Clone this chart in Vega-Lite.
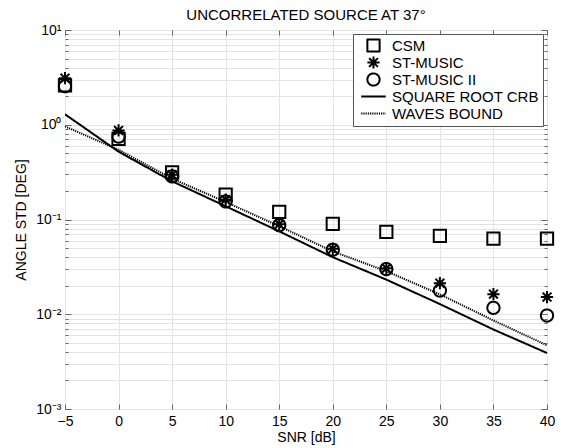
{
  "$schema": "https://vega.github.io/schema/vega-lite/v6.json",
  "autosize": {"type": "none"},
  "padding": {"left": 65, "top": 30, "right": 14, "bottom": 39},
  "width": 482,
  "height": 379,
  "background": "white",
  "title": {"text": "UNCORRELATED SOURCE AT 37°", "font": "Liberation Sans", "fontSize": 15, "fontWeight": "normal", "color": "#000", "offset": 0},
  "config": {
    "view": {"stroke": "#666", "strokeWidth": 1},
    "axis": {"labelFont": "Liberation Sans", "titleFont": "Liberation Sans", "labelFontSize": 14, "titleFontSize": 14, "titleFontWeight": "normal", "labelColor": "#000", "titleColor": "#000", "domainColor": "#666", "tickColor": "#666"},
    "legend": {"orient": "top-right", "offset": 4, "strokeColor": "#555", "fillColor": "white", "padding": 4, "labelFont": "Liberation Sans", "labelFontSize": 15, "labelColor": "#000", "symbolStrokeColor": "#000", "symbolStrokeWidth": 2, "symbolSize": 150, "rowPadding": 1, "labelOffset": 11, "symbolOffset": 9}
  },
  "datasets": {
    "pts": [
      {"series": "CSM", "snr": -5, "std": 2.6}, {"series": "CSM", "snr": 0, "std": 0.71}, {"series": "CSM", "snr": 5, "std": 0.315}, {"series": "CSM", "snr": 10, "std": 0.183}, {"series": "CSM", "snr": 15, "std": 0.12}, {"series": "CSM", "snr": 20, "std": 0.09}, {"series": "CSM", "snr": 25, "std": 0.074}, {"series": "CSM", "snr": 30, "std": 0.067}, {"series": "CSM", "snr": 35, "std": 0.063}, {"series": "CSM", "snr": 40, "std": 0.063},
      {"series": "ST-MUSIC", "snr": -5, "std": 3.1}, {"series": "ST-MUSIC", "snr": 0, "std": 0.87}, {"series": "ST-MUSIC", "snr": 5, "std": 0.297}, {"series": "ST-MUSIC", "snr": 10, "std": 0.162}, {"series": "ST-MUSIC", "snr": 15, "std": 0.089}, {"series": "ST-MUSIC", "snr": 20, "std": 0.049}, {"series": "ST-MUSIC", "snr": 25, "std": 0.0305}, {"series": "ST-MUSIC", "snr": 30, "std": 0.0213}, {"series": "ST-MUSIC", "snr": 35, "std": 0.0163}, {"series": "ST-MUSIC", "snr": 40, "std": 0.0152},
      {"series": "ST-MUSIC II", "snr": -5, "std": 2.55}, {"series": "ST-MUSIC II", "snr": 0, "std": 0.75}, {"series": "ST-MUSIC II", "snr": 5, "std": 0.285}, {"series": "ST-MUSIC II", "snr": 10, "std": 0.155}, {"series": "ST-MUSIC II", "snr": 15, "std": 0.087}, {"series": "ST-MUSIC II", "snr": 20, "std": 0.048}, {"series": "ST-MUSIC II", "snr": 25, "std": 0.03}, {"series": "ST-MUSIC II", "snr": 30, "std": 0.0178}, {"series": "ST-MUSIC II", "snr": 35, "std": 0.0117}, {"series": "ST-MUSIC II", "snr": 40, "std": 0.0097}
    ],
    "lines": [
      {"series": "SQUARE ROOT CRB", "snr": -5, "std": 1.29}, {"series": "SQUARE ROOT CRB", "snr": 0, "std": 0.52}, {"series": "SQUARE ROOT CRB", "snr": 5, "std": 0.253}, {"series": "SQUARE ROOT CRB", "snr": 10, "std": 0.138}, {"series": "SQUARE ROOT CRB", "snr": 15, "std": 0.075}, {"series": "SQUARE ROOT CRB", "snr": 20, "std": 0.04}, {"series": "SQUARE ROOT CRB", "snr": 25, "std": 0.0232}, {"series": "SQUARE ROOT CRB", "snr": 30, "std": 0.0128}, {"series": "SQUARE ROOT CRB", "snr": 35, "std": 0.0069}, {"series": "SQUARE ROOT CRB", "snr": 40, "std": 0.0039},
      {"series": "WAVES BOUND", "snr": -5, "std": 0.96}, {"series": "WAVES BOUND", "snr": 0, "std": 0.545}, {"series": "WAVES BOUND", "snr": 5, "std": 0.27}, {"series": "WAVES BOUND", "snr": 10, "std": 0.153}, {"series": "WAVES BOUND", "snr": 15, "std": 0.085}, {"series": "WAVES BOUND", "snr": 20, "std": 0.046}, {"series": "WAVES BOUND", "snr": 25, "std": 0.0285}, {"series": "WAVES BOUND", "snr": 30, "std": 0.0162}, {"series": "WAVES BOUND", "snr": 35, "std": 0.0086}, {"series": "WAVES BOUND", "snr": 40, "std": 0.0047}
    ]
  },
  "resolve": {"axis": {"x": "independent", "y": "independent"}},
  "layer": [
    {
      "data": {"name": "lines"},
      "mark": {"type": "line", "color": "#000", "strokeWidth": 2, "clip": true},
      "encoding": {
        "x": {"field": "snr", "type": "quantitative", "scale": {"domain": [-5, 40], "nice": false, "zero": false},
              "axis": {"title": "SNR [dB]", "values": [-5, 0, 5, 10, 15, 20, 25, 30, 35, 40], "grid": true, "gridColor": "#e3e3e3", "tickSize": -5, "labelPadding": 10, "titlePadding": 2, "domain": false, "labelFlush": false}},
        "y": {"field": "std", "type": "quantitative", "scale": {"type": "log", "domain": [0.001, 10], "nice": false},
              "axis": {"title": "ANGLE STD [DEG]", "values": [0.001, 0.002, 0.003, 0.004, 0.005, 0.006, 0.007, 0.008, 0.009, 0.01, 0.02, 0.03, 0.04, 0.05, 0.06, 0.07, 0.08, 0.09, 0.1, 0.2, 0.3, 0.4, 0.5, 0.6, 0.7, 0.8, 0.9, 1, 2, 3, 4, 5, 6, 7, 8, 9, 10],
                       "labelExpr": "abs(datum.value-10)<1e-9 ? '10¹' : abs(datum.value-1)<1e-9 ? '10⁰' : abs(datum.value-0.1)<1e-9 ? '10⁻¹' : abs(datum.value-0.01)<1e-9 ? '10⁻²' : abs(datum.value-0.001)<1e-9 ? '10⁻³' : ''",
                       "grid": true, "gridColor": "#e3e3e3", "tickSize": {"condition": {"test": "abs(log(datum.value)/LN10 - round(log(datum.value)/LN10)) < 0.001", "value": -6}, "value": -3}, "labelPadding": 10, "titlePadding": 7, "domain": false}},
        "strokeDash": {"field": "series", "type": "nominal", "scale": {"domain": ["CSM", "ST-MUSIC", "ST-MUSIC II", "SQUARE ROOT CRB", "WAVES BOUND"], "range": [[1, 0], [1, 0], [1, 0], [1, 0], [1.2, 1]]},
                       "legend": {"title": null, "encoding": {"symbols": {"strokeJoin": {"value": "round"}}}}}
      }
    },
    {
      "data": {"name": "pts"},
      "mark": {"type": "point", "filled": false, "color": "#000", "strokeWidth": 2, "opacity": 1, "size": 150, "clip": false},
      "encoding": {
        "x": {"field": "snr", "type": "quantitative", "axis": {"orient": "top", "title": null, "labels": false, "grid": false, "domain": false, "values": [-5, 0, 5, 10, 15, 20, 25, 30, 35, 40], "tickSize": -5}},
        "y": {"field": "std", "type": "quantitative", "axis": {"orient": "right", "title": null, "labels": false, "grid": false, "domain": false, "values": [0.001, 0.002, 0.003, 0.004, 0.005, 0.006, 0.007, 0.008, 0.009, 0.01, 0.02, 0.03, 0.04, 0.05, 0.06, 0.07, 0.08, 0.09, 0.1, 0.2, 0.3, 0.4, 0.5, 0.6, 0.7, 0.8, 0.9, 1, 2, 3, 4, 5, 6, 7, 8, 9, 10], "tickSize": {"condition": {"test": "abs(log(datum.value)/LN10 - round(log(datum.value)/LN10)) < 0.001", "value": -6}, "value": -3}}},
        "shape": {"field": "series", "type": "nominal", "scale": {"domain": ["CSM", "ST-MUSIC", "ST-MUSIC II", "SQUARE ROOT CRB", "WAVES BOUND"], "range": ["square", "M0,-1L0,1M-1,0L1,0M-0.72,-0.72L0.72,0.72M-0.72,0.72L0.72,-0.72", "circle", "M-2,0L2,0", "M-2,0L2,0"]},
                  "legend": {"title": null, "encoding": {"symbols": {"strokeJoin": {"value": "round"}}}}},
        "strokeDash": {"field": "series", "type": "nominal"}
      }
    }
  ]
}
